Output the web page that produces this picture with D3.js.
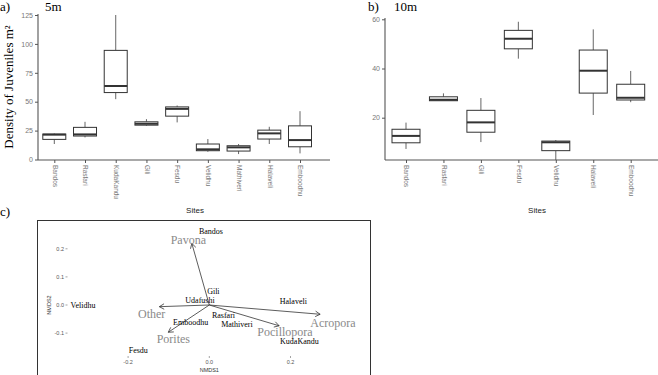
<!DOCTYPE html>
<html>
<head>
<meta charset="utf-8">
<script src="https://cdn.jsdelivr.net/npm/d3@7"></script>
<style>
  body { margin: 0; background: #fff; }
  svg { display: block; }
</style>
</head>
<body>
<svg id="chart" width="658" height="375"></svg>
<script>
// ---- panel a: 5m boxplots ----
const sites5 = ["Bandos", "Rasfari", "KudaKandu", "Gili", "Fesdu", "Velidhu", "Mathiveri", "Halaveli", "Emboodhu"];
const min5 = [13.4, 19.1, 52.2, 29.0, 32.1, 6.7, 4.7, 13.4, 5.3];
const q1_5 = [17.4, 20.3, 57.9, 29.7, 37.5, 7.6, 7.3, 17.7, 11.0];
const med5 = [21.5, 21.7, 63.6, 30.9, 43.8, 8.8, 10.5, 22.6, 16.8];
const q3_5 = [22.0, 27.8, 94.4, 32.6, 45.5, 13.4, 11.9, 25.4, 29.1];
const max5 = [22.5, 32.6, 125, 34.9, 46.7, 17.7, 13.4, 28.3, 41.8];
const ticks5 = [0, 25, 50, 75, 100, 125];

// ---- panel b: 10m boxplots ----
const sites10 = ["Bandos", "Rasfari", "Gili", "Fesdu", "Velidhu", "Halaveli", "Emboodhu"];
const min10 = [7.3, 26.9, 10.1, 44.0, 2.8, 21.1, 26.3];
const q1_10 = [9.8, 26.9, 14.1, 48.0, 6.6, 30.0, 27.2];
const med10 = [12.6, 27.3, 18.1, 52.1, 10.0, 39.1, 28.1];
const q3_10 = [15.3, 28.5, 23.0, 55.5, 10.5, 47.5, 33.6];
const max10 = [18.0, 29.9, 28.0, 59.0, 10.9, 55.9, 39.0];
const ticks10 = [20, 40, 60];

// ---- panel c: NMDS ----
const siteNames = ["Bandos", "Velidhu", "Fesdu", "Gili", "Udafushi", "Halaveli", "Emboodhu", "Rasfari", "Mathiveri", "KudaKandu"];
const siteX = [0.004, -0.311, -0.175, 0.010, -0.023, 0.207, -0.046, 0.035, 0.068, 0.222];
const siteY = [0.262, 0.000, -0.160, 0.048, 0.017, 0.012, -0.062, -0.038, -0.068, -0.130];
const species = ["Pavona", "Other", "Porites", "Pocillopora", "Acropora"];
const specX = [-0.043, -0.123, -0.101, 0.172, 0.273];
const specY = [0.219, -0.006, -0.097, -0.074, -0.033];
const nmdsXTicks = [-0.2, 0.0, 0.2];
const nmdsYTicks = [-0.1, 0.0, 0.1, 0.2];

const svg = d3.select("#chart");
const serif = "'Liberation Serif', 'DejaVu Serif', serif";
const sans = "'Liberation Sans', Arial, sans-serif";
const axisCol = "#555";
const tickTxt = "#777";
const boxCol = "#333";

function boxPanel(sites, mins, q1s, meds, q3s, maxs, ticks, x, y, boxW, left, right, top, base) {
  const g = svg.append("g");

  // axes
  const ya = g.append("g")
    .attr("transform", `translate(${left},0)`)
    .call(d3.axisLeft(y).tickValues(ticks).tickSize(3).tickPadding(2).tickFormat(d3.format("d")));
  ya.select(".domain").remove();
  ya.selectAll("line").attr("stroke", axisCol);
  ya.selectAll("text").attr("font-family", sans).attr("font-size", 7).attr("fill", tickTxt);

  const xa = g.append("g")
    .attr("transform", `translate(0,${base})`)
    .call(d3.axisBottom(x).tickSize(3));
  xa.select(".domain").remove();
  xa.selectAll("line").attr("stroke", axisCol);
  xa.selectAll("text")
    .attr("font-family", sans).attr("font-size", 6.5).attr("fill", tickTxt)
    .attr("transform", "rotate(90)")
    .attr("x", 5).attr("y", 0).attr("dy", "0.35em")
    .attr("text-anchor", "start");

  g.append("line").attr("x1", left).attr("x2", left).attr("y1", top).attr("y2", base)
    .attr("stroke", axisCol).attr("stroke-width", 1.1);
  g.append("line").attr("x1", left).attr("x2", right).attr("y1", base).attr("y2", base)
    .attr("stroke", axisCol).attr("stroke-width", 1.1);

  // boxes
  sites.forEach((s, i) => {
    const cx = x(s);
    g.append("line").attr("x1", cx).attr("x2", cx).attr("y1", y(maxs[i])).attr("y2", y(q3s[i]))
      .attr("stroke", "#555").attr("stroke-width", 0.9);
    g.append("line").attr("x1", cx).attr("x2", cx).attr("y1", y(q1s[i])).attr("y2", y(mins[i]))
      .attr("stroke", "#555").attr("stroke-width", 0.9);
    g.append("rect")
      .attr("x", cx - boxW / 2).attr("width", boxW)
      .attr("y", y(q3s[i])).attr("height", Math.max(y(q1s[i]) - y(q3s[i]), 0.5))
      .attr("fill", "#fff").attr("stroke", boxCol).attr("stroke-width", 1);
    g.append("line").attr("x1", cx - boxW / 2).attr("x2", cx + boxW / 2)
      .attr("y1", y(meds[i])).attr("y2", y(meds[i]))
      .attr("stroke", boxCol).attr("stroke-width", 2);
  });
  return g;
}

// panel a
const xA = d3.scalePoint().domain(sites5).range([54.3, 300]);
const yA = d3.scaleLinear().domain([0, 125]).range([159.5, 15]);
boxPanel(sites5, min5, q1_5, med5, q3_5, max5, ticks5, xA, yA, 23, 38, 330, 14, 160);

// panel b
const xB = d3.scalePoint().domain(sites10).range([406, 630.7]);
const yB = d3.scaleLinear().domain([0, 60]).range([166.9, 19.3]);
boxPanel(sites10, min10, q1_10, med10, q3_10, max10, ticks10, xB, yB, 28, 385, 658, 18, 160);

// titles and labels
function txt(x, y, s, size, fam, fill, anchor) {
  return svg.append("text").attr("x", x).attr("y", y).text(s)
    .attr("font-size", size).attr("font-family", fam).attr("fill", fill || "#000")
    .attr("text-anchor", anchor || "start");
}
txt(0, 11, "a)", 13, serif);
txt(45, 11, "5m", 13, serif);
txt(368, 11, "b)", 13, serif);
txt(394, 11, "10m", 13, serif);
txt(0, 216, "c)", 13, serif);
txt(195, 213, "Sites", 8, sans, "#222", "middle");
txt(537, 213, "Sites", 8, sans, "#222", "middle");
svg.append("text").text("Density of Juveniles m²")
  .attr("transform", "translate(13,87) rotate(-90)")
  .attr("text-anchor", "middle").attr("font-size", 13).attr("font-family", serif);

// panel c
const gc = svg.append("g");
gc.append("rect").attr("x", 37.5).attr("y", 220.5).attr("width", 333).attr("height", 160)
  .attr("fill", "none").attr("stroke", "#333").attr("stroke-width", 1);

const xC = d3.scaleLinear().domain([0, 0.2]).range([209.3, 290.5]);
const yC = d3.scaleLinear().domain([0, 0.1]).range([305, 276.9]);

nmdsXTicks.forEach(t => {
  gc.append("line").attr("x1", xC(t)).attr("x2", xC(t)).attr("y1", 356).attr("y2", 358)
    .attr("stroke", "#666").attr("stroke-width", 0.6);
  gc.append("text").attr("x", xC(t)).attr("y", 364).text(t.toFixed(1))
    .attr("text-anchor", "middle").attr("font-size", 5.5).attr("font-family", sans).attr("fill", "#555");
});
nmdsYTicks.forEach(t => {
  gc.append("line").attr("x1", 65.5).attr("x2", 67.5).attr("y1", yC(t)).attr("y2", yC(t))
    .attr("stroke", "#666").attr("stroke-width", 0.6);
  gc.append("text").attr("x", 64).attr("y", yC(t)).attr("dy", "0.35em").text(t.toFixed(1))
    .attr("text-anchor", "end").attr("font-size", 5.5).attr("font-family", sans).attr("fill", "#555");
});
gc.append("text").attr("x", 209.3).attr("y", 372).text("NMDS1")
  .attr("text-anchor", "middle").attr("font-size", 5.5).attr("font-family", sans).attr("fill", "#333");
gc.append("text").text("NMDS2").attr("transform", "translate(51,305) rotate(-90)")
  .attr("text-anchor", "middle").attr("font-size", 5.5).attr("font-family", sans).attr("fill", "#333");

// species arrows
const ox = xC(0), oy = yC(0);
species.forEach((s, i) => {
  const tx = xC(specX[i]), ty = yC(specY[i]);
  const ang = Math.atan2(ty - oy, tx - ox);
  const head = 5.5, spread = Math.PI / 6;
  gc.append("line").attr("x1", ox).attr("y1", oy).attr("x2", tx).attr("y2", ty)
    .attr("stroke", "#333").attr("stroke-width", 0.8);
  gc.append("path")
    .attr("d", `M${tx - head * Math.cos(ang - spread)},${ty - head * Math.sin(ang - spread)}L${tx},${ty}L${tx - head * Math.cos(ang + spread)},${ty - head * Math.sin(ang + spread)}`)
    .attr("fill", "none").attr("stroke", "#333").attr("stroke-width", 0.8);
});

// species labels (placed near arrow tips)
const specLabX = [188.3, 151.7, 173.3, 285, 333];
const specLabY = [240, 313.3, 338.3, 331.5, 322.3];
species.forEach((s, i) => {
  gc.append("text").attr("x", specLabX[i]).attr("y", specLabY[i]).attr("dy", "0.35em").text(s)
    .attr("text-anchor", "middle").attr("font-size", 12).attr("font-family", serif).attr("fill", "#8a8a8a");
});

// site labels
siteNames.forEach((s, i) => {
  gc.append("text").attr("x", xC(siteX[i])).attr("y", yC(siteY[i])).attr("dy", "0.35em").text(s)
    .attr("text-anchor", "middle").attr("font-size", 8).attr("font-family", serif).attr("fill", "#000");
});
</script>
</body>
</html>
